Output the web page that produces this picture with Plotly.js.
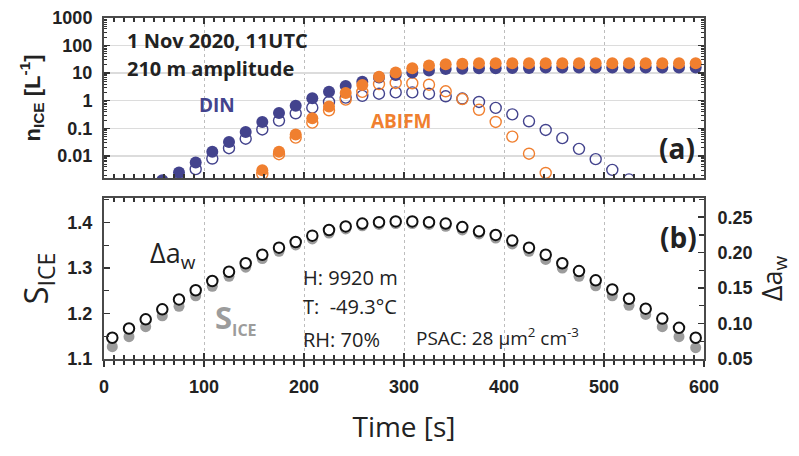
<!DOCTYPE html>
<html>
<head>
<meta charset="utf-8">
<script src="https://cdn.plot.ly/plotly-3.0.1.min.js"></script>
<style>html,body{margin:0;padding:0;background:#fff;}#chart{width:799px;height:456px;}</style>
</head>
<body>
<div id="chart"></div>
<script>
// ---- data ----
const timeS = [8.3, 25.0, 41.7, 58.3, 75.0, 91.7, 108.3, 125.0, 141.7, 158.3, 175.0, 191.7,
  208.3, 225.0, 241.7, 258.3, 275.0, 291.7, 308.3, 325.0, 341.7, 358.3, 375.0, 391.7,
  408.3, 425.0, 441.7, 458.3, 475.0, 491.7, 508.3, 525.0, 541.7, 558.3, 575.0, 591.7];

// n_ICE [L^-1]
const dinFilled = [null, null, null, 0.0013, 0.0025, 0.0057, 0.014, 0.032, 0.074, 0.17, 0.36, 0.66,
  1.22, 2.1, 3.4, 4.9, 7.0, 8.6, 10.5, 12.5, 14, 14.5, 15, 15,
  15.5, 15.5, 16, 16, 16, 16, 16, 16, 16, 16, 16, 16];
const dinOpen = [null, null, null, null, 0.0012, 0.0033, 0.008, 0.019, 0.042, 0.091, 0.19, 0.35,
  0.56, 0.9, 1.3, 1.5, 1.8, 2.0, 2.0, 1.8, 1.45, 1.2, 0.9, 0.55,
  0.32, 0.18, 0.087, 0.044, 0.018, 0.0076, 0.0031, 0.0014, null, null, null, null];
const abifmFilled = [null, null, null, null, null, null, null, null, null, 0.003, 0.014, 0.06,
  0.23, 0.62, 1.9, 3.7, 7.4, 10.5, 15, 19, 21, 22, 23, 23,
  23, 23, 23, 23, 23, 23, 23, 23, 23, 23, 23, 23];
const abifmOpen = [null, null, null, null, null, null, null, null, null, 0.0022, 0.0115, 0.046,
  0.16, 0.45, 1.1, 2.1, 4.0, 4.4, 4.3, 3.8, 2.2, 1.15, 0.47, 0.17,
  0.05, 0.012, 0.0024, null, null, null, null, null, null, null, null, null];

const deltaAw = [0.080, 0.093, 0.106, 0.120, 0.134, 0.147, 0.160, 0.173, 0.185, 0.197, 0.207, 0.215,
  0.224, 0.232, 0.237, 0.241, 0.243, 0.244, 0.244, 0.243, 0.241, 0.236, 0.230, 0.225,
  0.217, 0.207, 0.197, 0.185, 0.174, 0.161, 0.148, 0.135, 0.121, 0.107, 0.094, 0.080];
const sIce = [1.127, 1.149, 1.171, 1.195, 1.216, 1.239, 1.260, 1.282, 1.302, 1.321, 1.337, 1.351,
  1.364, 1.377, 1.386, 1.393, 1.396, 1.398, 1.398, 1.396, 1.392, 1.384, 1.375, 1.366,
  1.353, 1.337, 1.319, 1.300, 1.282, 1.261, 1.239, 1.218, 1.198, 1.171, 1.149, 1.125];

const timeTicks = [0, 100, 200, 300, 400, 500, 600];
const nTickVals = [0.01, 0.1, 1, 10, 100, 1000];
const nTickText = ['0.01', '0.1', '1', '10', '100', '1000'];
const sTickVals = [1.1, 1.2, 1.3, 1.4];
const sTickText = ['1.1', '1.2', '1.3', '1.4'];
const awTickVals = [0.05, 0.10, 0.15, 0.20, 0.25];
const awTickText = ['0.05', '0.10', '0.15', '0.20', '0.25'];

// ---- styling ----
const DIN = '#43438d', ORG = '#f07f2f', GRAY = '#9c9c9c';
const tickFont = {family: 'Liberation Sans, Arial, sans-serif', size: 18, weight: 'bold', color: '#222'};
const txtFont = 'Open Sans, sans-serif';
const frame = '#4a4a4a';

const logMinor = [];
for (let e = -3; e < 3; e++) for (let m = 2; m <= 9; m++) logMinor.push(m * Math.pow(10, e));

const traces = [
  {x: timeS, y: sIce, xaxis: 'x', yaxis: 'y', mode: 'markers', hoverinfo: 'skip',
   marker: {size: 11, color: GRAY, line: {width: 0}}},
  {x: timeS, y: deltaAw, xaxis: 'x', yaxis: 'y3', mode: 'markers', hoverinfo: 'skip',
   marker: {size: 10.5, color: '#ffffff', line: {color: '#111', width: 2}}},
  {x: timeS, y: dinOpen, xaxis: 'x2', yaxis: 'y2', mode: 'markers', hoverinfo: 'skip',
   marker: {symbol: 'circle-open', size: 11, color: DIN, line: {color: DIN, width: 1.4}}},
  {x: timeS, y: abifmOpen, xaxis: 'x2', yaxis: 'y2', mode: 'markers', hoverinfo: 'skip',
   marker: {symbol: 'circle-open', size: 11, color: ORG, line: {color: ORG, width: 1.4}}},
  {x: timeS, y: dinFilled, xaxis: 'x2', yaxis: 'y2', mode: 'markers', hoverinfo: 'skip',
   marker: {size: 12, color: DIN}},
  {x: timeS, y: abifmFilled, xaxis: 'x2', yaxis: 'y2', mode: 'markers', hoverinfo: 'skip',
   marker: {size: 12, color: ORG}},
  // helper (invisible) to activate the overlay axis carrying inside ticks of the lower panel
  {x: [timeS[0]], y: [sIce[0]], xaxis: 'x4', yaxis: 'y', mode: 'markers', hoverinfo: 'skip',
   marker: {size: 1, opacity: 0}}
];

const PX = (px) => (px - 104) / 600;
const PY = (py) => (359 - py) / 341;

const ann = (text, x, y, size, opts = {}) => Object.assign({
  text, xref: 'paper', yref: 'paper', x: PX(x), y: PY(y), showarrow: false,
  xanchor: 'left', yanchor: 'middle',
  font: {family: txtFont, size, color: '#222'}
}, opts);

const layout = {
  width: 799, height: 456,
  margin: {l: 104, r: 95, t: 18, b: 97, pad: 0},
  paper_bgcolor: '#fff', plot_bgcolor: '#fff',
  showlegend: false,
  xaxis: {
    domain: [0, 1], anchor: 'y', range: [0, 600], tickmode: 'array', tickvals: timeTicks,
    ticks: 'outside', ticklen: 6, tickwidth: 1.5, tickcolor: '#333',
    minor: {tickmode: 'linear', tick0: 0, dtick: 10, ticks: 'outside', ticklen: 4, tickwidth: 1.2, tickcolor: '#333', showgrid: false},
    showline: true, linecolor: frame, linewidth: 2, mirror: true,
    showgrid: true, gridcolor: '#bdbdbd', griddash: 'dot', gridwidth: 1, zeroline: false,
    tickfont: tickFont, ticklabelstandoff: 4,
    title: {text: 'Time [s]', font: {family: txtFont, size: 28, color: '#222'}, standoff: 22}
  },
  xaxis4: {
    overlaying: 'x', anchor: 'y', range: [0, 600], tickmode: 'array', tickvals: timeTicks,
    ticks: 'inside', ticklen: 6, tickwidth: 1.5, tickcolor: '#333', mirror: 'ticks',
    minor: {tickmode: 'linear', tick0: 0, dtick: 10, ticks: 'inside', ticklen: 4, tickwidth: 1.2, tickcolor: '#333', showgrid: false},
    showline: true, linecolor: frame, linewidth: 2,
    showgrid: false, zeroline: false, showticklabels: false
  },
  yaxis: {
    domain: [0, 0.472], anchor: 'x', range: [1.1, 1.454], tickmode: 'array', tickvals: sTickVals, ticktext: sTickText,
    ticks: 'inside', ticklen: 6, tickwidth: 1.5, tickcolor: '#333',
    minor: {tickmode: 'array', tickvals: [1.15, 1.25, 1.35, 1.45], ticks: 'inside', ticklen: 5, tickwidth: 1.2, tickcolor: '#333', showgrid: false},
    showline: true, linecolor: frame, linewidth: 2,
    showgrid: false, zeroline: false, tickfont: tickFont, ticklabelstandoff: 6,
    title: {text: 'S<sub>ICE</sub>', font: {family: txtFont, size: 33, color: '#222'}, standoff: 9}
  },
  yaxis3: {
    overlaying: 'y', side: 'right', anchor: 'x', range: [0.05, 0.277], tickmode: 'array', tickvals: awTickVals, ticktext: awTickText,
    ticks: 'inside', ticklen: 6, tickwidth: 1.5, tickcolor: '#333',
    minor: {tickmode: 'array', tickvals: [0.075, 0.125, 0.175, 0.225, 0.275], ticks: 'inside', ticklen: 5, tickwidth: 1.2, tickcolor: '#333', showgrid: false},
    showline: true, linecolor: frame, linewidth: 2,
    showgrid: false, zeroline: false, tickfont: tickFont, ticklabelstandoff: 8,
    title: {text: 'Δa<sub>w</sub>', font: {family: txtFont, size: 27, color: '#222'}, standoff: 8}
  },
  xaxis2: {
    domain: [0, 1], anchor: 'y2', range: [0, 600], matches: 'x', tickmode: 'array', tickvals: timeTicks,
    ticks: 'inside', ticklen: 6, tickwidth: 1.5, tickcolor: '#333', mirror: 'ticks',
    minor: {tickmode: 'linear', tick0: 0, dtick: 10, ticks: 'inside', ticklen: 4, tickwidth: 1.2, tickcolor: '#333', showgrid: false},
    showline: true, linecolor: frame, linewidth: 2,
    showgrid: true, gridcolor: '#bdbdbd', griddash: 'dot', gridwidth: 1, zeroline: false,
    showticklabels: false
  },
  yaxis2: {
    domain: [0.531, 1], anchor: 'x2', type: 'log', range: [-2.8, 3], tickmode: 'array', tickvals: nTickVals, ticktext: nTickText,
    ticks: 'inside', ticklen: 6, tickwidth: 1.5, tickcolor: '#333', mirror: 'ticks',
    minor: {tickmode: 'array', tickvals: logMinor, ticks: 'inside', ticklen: 3, tickwidth: 1, tickcolor: '#333', showgrid: false},
    showline: true, linecolor: frame, linewidth: 2,
    showgrid: true, gridcolor: '#dcdcdc', gridwidth: 1.5, zeroline: false,
    tickfont: tickFont, ticklabelstandoff: 6,
    title: {text: 'n<sub>ICE</sub> [L<sup>-1</sup>]', font: {family: 'Liberation Sans, Arial, sans-serif', size: 22, weight: 'bold', color: '#222'}, standoff: 6}
  },
  annotations: [
    ann('1 Nov 2020, 11UTC', 125, 40, 20, {font: {family: txtFont, size: 20, weight: 'bold', color: '#222'}}),
    ann('210 m amplitude', 125, 68, 20, {font: {family: txtFont, size: 20, weight: 'bold', color: '#222'}}),
    ann('DIN', 217, 105, 19, {xanchor: 'center', font: {family: txtFont, size: 19, weight: 'bold', color: DIN}}),
    ann('ABIFM', 401, 121, 19, {xanchor: 'center', font: {family: txtFont, size: 19, weight: 'bold', color: ORG}}),
    ann('(a)', 677, 148, 28, {xanchor: 'center', font: {family: txtFont, size: 28, weight: 'bold', color: '#222'}}),
    ann('(b)', 678, 237, 28, {xanchor: 'center', font: {family: txtFont, size: 28, weight: 'bold', color: '#222'}}),
    ann('Δa<sub>w</sub>', 148, 254, 27),
    ann('S<sub><span style="font-size:16px">ICE</span></sub>', 213, 318, 31, {font: {family: txtFont, size: 31, weight: 'bold', color: GRAY}}),
    ann('H: 9920 m', 301, 277, 20),
    ann('T:  -49.3°C', 301, 306, 20),
    ann('RH: 70%', 301, 339, 20),
    ann('PSAC: 28 μm<sup>2</sup> cm<sup>-3</sup>', 414, 337, 19)
  ]
};

Plotly.newPlot('chart', traces, layout, {staticPlot: true, displayModeBar: false});
</script>
</body>
</html>
